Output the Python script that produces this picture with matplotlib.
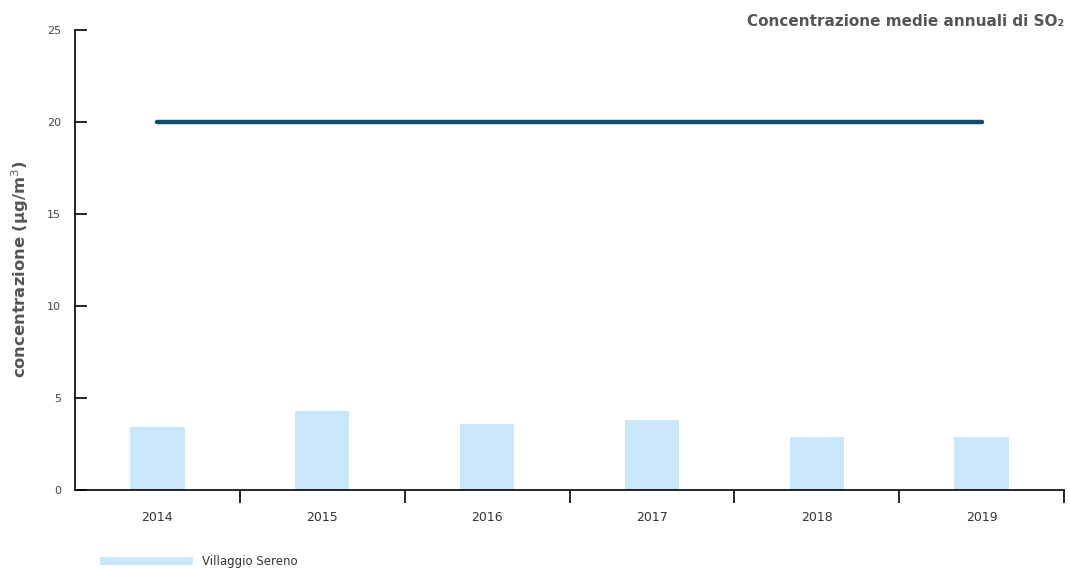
import numpy as np
import matplotlib.pyplot as plt

# dati
anni = ['2014', '2015', '2016', '2017', '2018', '2019']
villaggio_sereno = [3.4, 4.3, 3.6, 3.8, 2.9, 2.9]
limite = [20, 20, 20, 20, 20, 20]
y_ticks = [0, 5, 10, 15, 20, 25]

fig = plt.figure(figsize=(10.7, 5.68), dpi=100)
ax = fig.add_axes([0.0701, 0.1373, 0.9243, 0.8099])

x = np.arange(len(anni))
barre = ax.bar(x, villaggio_sereno, width=0.33, color='#c9e7f8', label='Villaggio Sereno')
ax.plot(x, limite, color='#0b4f6c', linewidth=3.2, solid_capstyle='round')

ax.set_xlim(-0.5, len(anni) - 0.5)
ax.set_ylim(0, 25)

# --- assi ---
ax.spines['top'].set_visible(False)
ax.spines['right'].set_visible(False)
ax.spines['left'].set_linewidth(1.2)
ax.spines['bottom'].set_linewidth(1.2)

ax.set_xticks(x)
ax.set_xticklabels(anni)
ax.set_xticks(np.arange(0.5, len(anni)), minor=True)
ax.tick_params(axis='x', which='major', length=0, pad=15, labelsize=9, labelcolor='#333333')
ax.tick_params(axis='x', which='minor', length=9, width=1.2, direction='out')

ax.set_yticks(y_ticks)
ax.tick_params(axis='y', direction='in', length=8.6, width=1.2, pad=10, labelsize=8, labelcolor='#444444')

ax.set_ylabel('concentrazione (µg/m$^3$)', fontsize=11.8, fontweight='bold', color='#555555')
ax.yaxis.set_label_coords(-0.0445, 0.48)

fig.text(0.9944, 0.962, 'Concentrazione medie annuali di SO₂', ha='right', va='center',
         fontsize=11, fontweight='bold', color='#555555')

fig.legend(handles=[barre], loc='center left', bbox_to_anchor=(100 / 1070, 1 - 562 / 568),
           frameon=False, fontsize=8.5, borderpad=0, borderaxespad=0,
           handlelength=7.9, handleheight=0.68, handletextpad=0.76, labelcolor='#333333')

fig.savefig('out.png', dpi=100)
